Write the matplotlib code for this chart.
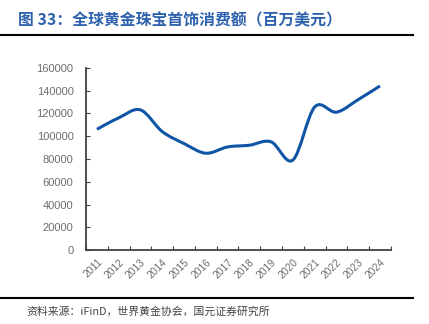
import numpy as np
import matplotlib.pyplot as plt
import matplotlib.transforms as mtransforms
from matplotlib.path import Path
from matplotlib.patches import PathPatch
from matplotlib.lines import Line2D

plt.rcParams['font.family'] = ['Noto Sans CJK SC', 'DejaVu Sans']

# 数据
years = ['2011', '2012', '2013', '2014', '2015', '2016', '2017',
         '2018', '2019', '2020', '2021', '2022', '2023', '2024']
values = [106000, 116000, 123000, 104000, 93500, 85000, 90500,
          92000, 95000, 79000, 125500, 121000, 132000, 144000]
yticks = [0, 20000, 40000, 60000, 80000, 100000, 120000, 140000, 160000]

title = '图 33：全球黄金珠宝首饰消费额（百万美元）'
source = '资料来源：iFinD，世界黄金协会，国元证券研究所'

line_color = '#0F55A5'
axis_color = '#404040'
label_color = '#6E6E6E'

fig = plt.figure(figsize=(4.29, 3.24), dpi=100)
ax = fig.add_axes([0.2005, 0.228, 0.7105, 0.563])

# 平滑曲线（Catmull-Rom -> 贝塞尔）
x = np.arange(len(values), dtype=float)
y = np.array(values, dtype=float)
verts = [(x[0], y[0])]
codes = [Path.MOVETO]
t = 1 / 6
for i in range(len(x) - 1):
    p0 = (x[max(i - 1, 0)], y[max(i - 1, 0)])
    p1 = (x[i], y[i])
    p2 = (x[i + 1], y[i + 1])
    p3 = (x[min(i + 2, len(x) - 1)], y[min(i + 2, len(x) - 1)])
    c1 = (p1[0] + (p2[0] - p0[0]) * t, p1[1] + (p2[1] - p0[1]) * t)
    c2 = (p2[0] - (p3[0] - p1[0]) * t, p2[1] - (p3[1] - p1[1]) * t)
    verts += [c1, c2, p2]
    codes += [Path.CURVE4] * 3
ax.add_patch(PathPatch(Path(verts, codes), facecolor='none',
                       edgecolor=line_color, lw=2.2, capstyle='butt'))

ax.set_xlim(-0.5, len(years) - 0.5)
ax.set_ylim(0, 160000)
ax.set_yticks(yticks)
ax.set_yticklabels([str(v) for v in yticks], fontsize=8, color=label_color,
                   family=['Liberation Sans', 'DejaVu Sans'])
ax.set_xticks(x)
ax.set_xticklabels(years, rotation=45, ha='right', va='top', fontsize=7.4,
                   color=label_color, rotation_mode='anchor',
                   family=['Liberation Sans', 'DejaVu Sans'])
shift = mtransforms.ScaledTranslation(-0.09, 0.03, fig.dpi_scale_trans)
for lab in ax.get_xticklabels():
    lab.set_transform(lab.get_transform() + shift)
ax.tick_params(axis='x', length=0, pad=5)
ax.set_xticks(np.arange(-0.5, len(years), 1.0), minor=True)
ax.tick_params(axis='x', which='minor', direction='in', length=3,
               color=axis_color, width=0.8)
ax.tick_params(axis='y', direction='in', length=3, color=axis_color,
               width=0.8, pad=9)

for s in ['top', 'right']:
    ax.spines[s].set_visible(False)
for s in ['left', 'bottom']:
    ax.spines[s].set_color(axis_color)
    ax.spines[s].set_linewidth(1.3)

# 标题与来源
fig.text(0.042, 0.938, title, fontsize=11.4, color='#2E62AE',
         fontweight='bold', va='center', ha='left')
fig.add_artist(Line2D([0.0, 0.963], [0.892, 0.892], color='black', lw=1.5,
                      transform=fig.transFigure))
fig.add_artist(Line2D([0.0, 0.963], [0.08, 0.08], color='black', lw=1.5,
                      transform=fig.transFigure))
fig.text(0.061, 0.04, source, fontsize=7.8, color='#444444',
         va='center', ha='left')

fig.savefig('out.png', dpi=100)
